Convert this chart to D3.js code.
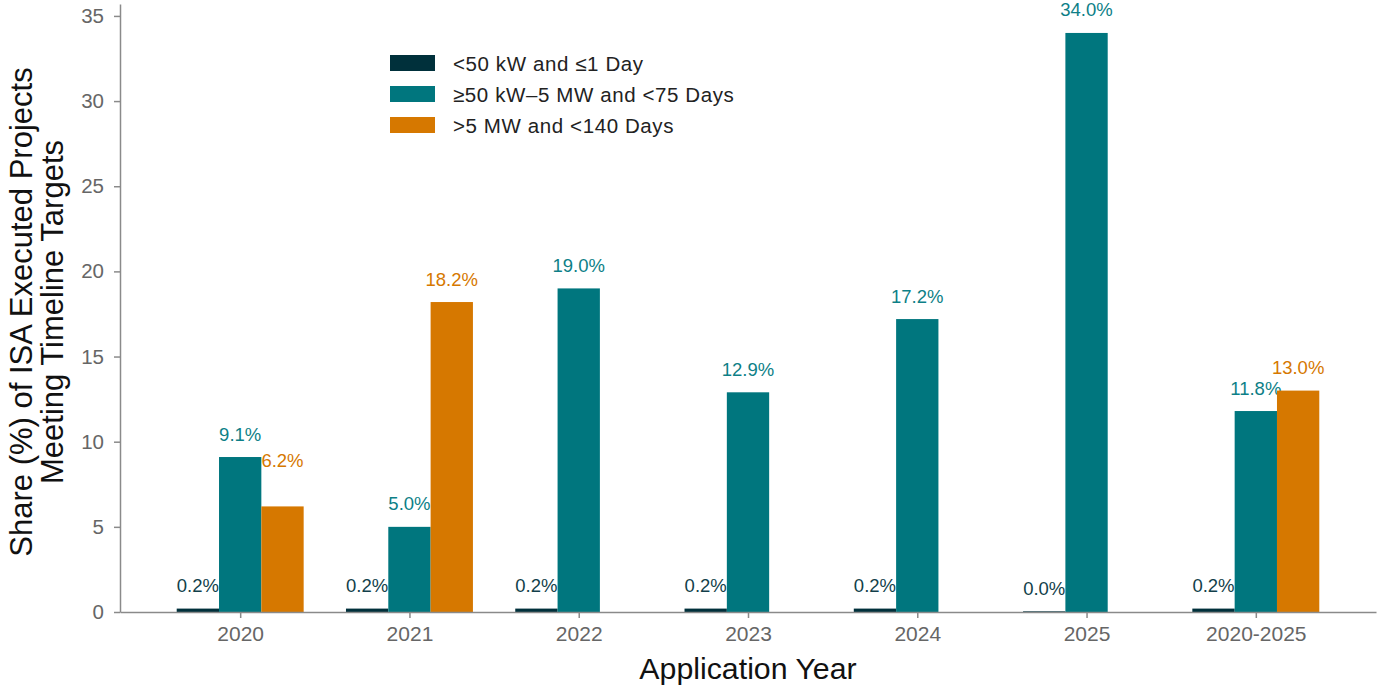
<!DOCTYPE html>
<html>
<head>
<meta charset="utf-8">
<script src="https://cdn.jsdelivr.net/npm/d3@7"></script>
<style>
  html, body { margin: 0; padding: 0; background: #fff; }
  svg { display: block; font-family: "Liberation Sans", Arial, sans-serif; }
</style>
</head>
<body>
<svg id="chart" width="1377" height="687"></svg>
<script>
// ---- data ----
const categories = ["2020", "2021", "2022", "2023", "2024", "2025", "2020-2025"];
const seriesNames = ["<50 kW and \u22641 Day", "\u226550 kW\u20135 MW and <75 Days", ">5 MW and <140 Days"];
const smallValues = [0.2, 0.2, 0.2, 0.2, 0.2, 0.04, 0.2];
const midValues = [9.1, 5.0, 19.0, 12.9, 17.2, 34.0, 11.8];
const largeValues = [6.2, 18.2, null, null, null, null, 13.0];
const yTicks = [0, 5, 10, 15, 20, 25, 30, 35];

// ---- styling ----
const colors = ["#00303b", "#00767e", "#d67800"];
const labelColors = ["#123f4a", "#0d7f87", "#d67800"];
const labelNudge = { "0-2": -23 }; // category index - series index : extra px lift
const svg = d3.select("#chart");

const x = d3.scaleLinear().domain([-0.71, 6.71]).range([120, 1376]);
const y = d3.scaleLinear().domain([0, 35.7]).range([612, 4]);
const barW = 0.25;
const offsets = [-0.25, 0, 0.25];
const allSeries = [smallValues, midValues, largeValues];

// bars
allSeries.forEach((vals, s) => {
  const data = vals.map((v, i) => ({ v, i })).filter(d => d.v !== null);
  svg.append("g").selectAll("rect").data(data).join("rect")
    .attr("x", d => x(d.i + offsets[s] - barW / 2))
    .attr("width", d => x(d.i + offsets[s] + barW / 2) - x(d.i + offsets[s] - barW / 2))
    .attr("y", d => y(d.v))
    .attr("height", d => y(0) - y(d.v))
    .attr("fill", colors[s]);
  svg.append("g").selectAll("text").data(data).join("text")
    .attr("x", d => x(d.i + offsets[s]))
    .attr("y", d => y(d.v) - 16.5 + (labelNudge[d.i + "-" + s] || 0))
    .attr("text-anchor", "middle")
    .attr("font-size", 18.5)
    .attr("fill", labelColors[s])
    .text(d => d.v.toFixed(1) + "%");
});

// axes
const axisColor = "#8a8a8a";
const tickColor = "#666";
const xAxis = d3.axisBottom(x)
  .tickValues(d3.range(categories.length))
  .tickFormat(i => categories[i])
  .tickSize(6).tickSizeOuter(0).tickPadding(8);
const gx = svg.append("g").attr("transform", `translate(0,${y(0)})`).call(xAxis);
gx.select(".domain").attr("stroke", axisColor).attr("stroke-width", 1.5);
gx.selectAll(".tick line").attr("stroke", axisColor).attr("stroke-width", 1.5);
gx.selectAll(".tick text").attr("fill", tickColor).attr("font-size", 21)
  .attr("font-family", "Liberation Sans, Arial, sans-serif");

const yAxis = d3.axisLeft(y).tickValues(yTicks).tickFormat(d3.format("d"))
  .tickSize(6).tickSizeOuter(0).tickPadding(10);
const gy = svg.append("g").attr("transform", `translate(${x(-0.71)},0)`).call(yAxis);
gy.select(".domain").attr("stroke", axisColor).attr("stroke-width", 1.5);
gy.selectAll(".tick line").attr("stroke", axisColor).attr("stroke-width", 1.5);
gy.selectAll(".tick text").attr("fill", tickColor).attr("font-size", 20.5)
  .attr("font-family", "Liberation Sans, Arial, sans-serif");

// axis titles
svg.append("text")
  .attr("x", (x.range()[0] + x.range()[1]) / 2)
  .attr("y", 679)
  .attr("text-anchor", "middle")
  .attr("font-size", 30.3)
  .attr("fill", "#111")
  .text("Application Year");

const yTitle = svg.append("text")
  .attr("transform", "translate(0,312) rotate(-90)")
  .attr("text-anchor", "middle")
  .attr("font-size", 31)
  .attr("fill", "#111");
yTitle.append("tspan").attr("x", 0).attr("y", 32).text("Share (%) of ISA Executed Projects");
yTitle.append("tspan").attr("x", 0).attr("y", 63).text("Meeting Timeline Targets");

// legend
const legend = svg.append("g").attr("transform", "translate(390,55)");
seriesNames.forEach((name, s) => {
  const g = legend.append("g").attr("transform", `translate(0,${s * 31})`);
  g.append("rect").attr("width", 45).attr("height", 16).attr("fill", colors[s]);
  g.append("text").attr("x", 63).attr("y", 15.5).attr("font-size", 20.5)
    .attr("letter-spacing", 0.6)
    .attr("fill", "#222").text(name);
});
</script>
</body>
</html>
